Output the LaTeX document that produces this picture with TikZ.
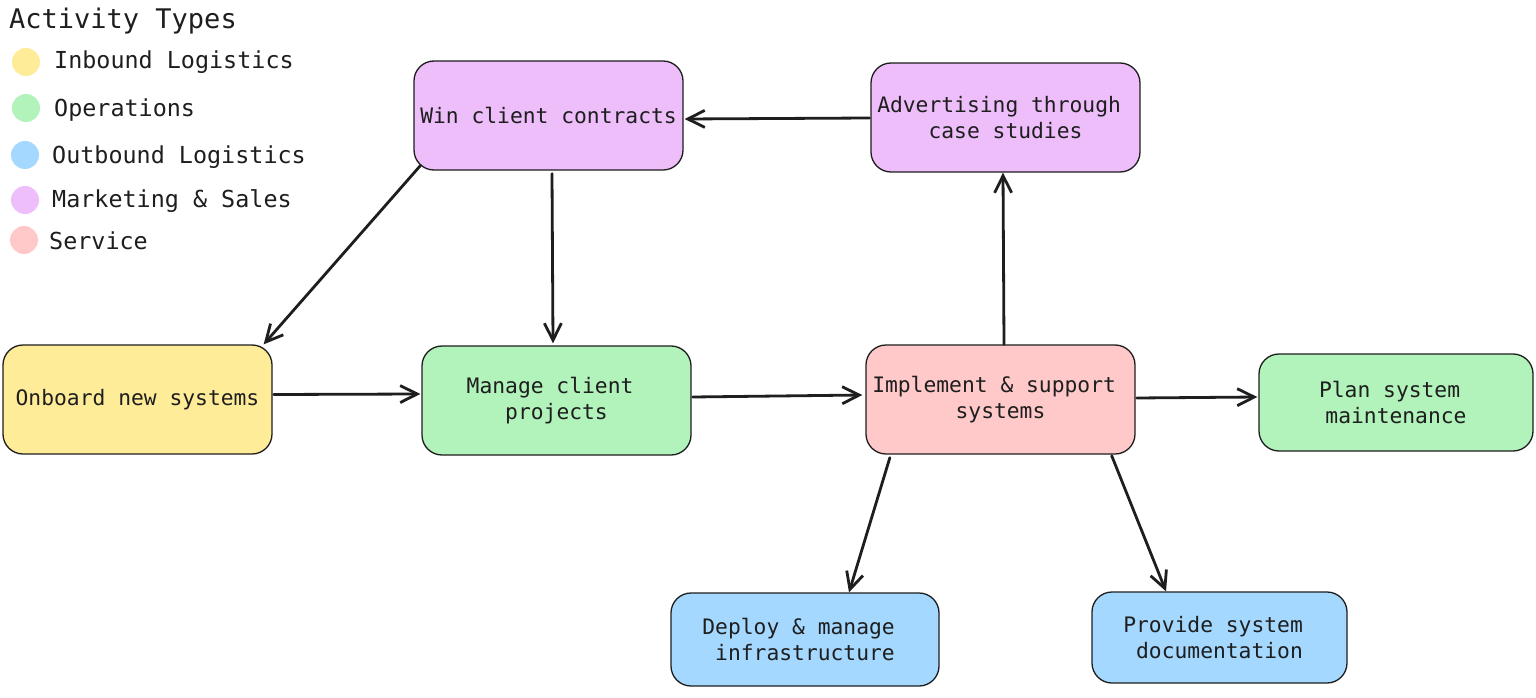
\documentclass[tikz,border=0pt]{standalone}
\usepackage{fontspec}
\setmonofont{DejaVu Sans Mono}
\usetikzlibrary{arrows.meta,calc}
\definecolor{inb}{HTML}{FFEC99}
\definecolor{ops}{HTML}{B2F2BB}
\definecolor{outb}{HTML}{A5D8FF}
\definecolor{mkt}{HTML}{EEBEFA}
\definecolor{srv}{HTML}{FFC9C9}
\definecolor{ink}{HTML}{1E1E1E}
\tikzset{
  act/.style={draw=ink, line width=1.3bp, rounded corners=20bp, align=center,
    inner sep=0pt, font=\ttfamily\fontsize{21.3bp}{26.5bp}\selectfont, text=ink},
  conn/.style={draw=ink, line width=2.8bp, line cap=round,
    -{Straight Barb[length=17bp,width=17bp,line width=2.8bp]}},
  legdot/.style={circle, minimum size=28bp, inner sep=0pt, draw=none},
  legtxt/.style={anchor=west, inner sep=0pt, text=ink, font=\ttfamily\fontsize{23.4bp}{28bp}\selectfont},
}
\newcommand{\tsp}{\hphantom{x}}
\begin{document}
\begin{tikzpicture}[x=1bp,y=-1bp]
\useasboundingbox[fill=white] (0,0) rectangle (1536,698);
% legend
\node[anchor=west, inner sep=0pt, text=ink, font=\ttfamily\fontsize{27bp}{32bp}\selectfont] (legtitle) at (9,21) {Activity Types};
\node[legdot, fill=inb] (d1) at (26,62) {};
\node[legdot, fill=ops] (d2) at (26,108) {};
\node[legdot, fill=outb] (d3) at (25,155) {};
\node[legdot, fill=mkt] (d4) at (25,200) {};
\node[legdot, fill=srv] (d5) at (24,240) {};
\node[legtxt] (l1) at (54,62.5) {Inbound Logistics};
\node[legtxt] (l2) at (54,110.5) {Operations};
\node[legtxt] (l3) at (52,157.5) {Outbound Logistics};
\node[legtxt] (l4) at (52,201.5) {Marketing \& Sales};
\node[legtxt] (l5) at (49,240.5) {Service};
% activities
\node[act, fill=mkt, minimum width=269bp, minimum height=109bp] (win) at (548.5,115.5) {Win client contracts};
\node[act, fill=mkt, minimum width=269bp, minimum height=109bp] (adv) at (1005.5,117.5) {Advertising through\tsp\\case studies};
\node[act, fill=inb, minimum width=269bp, minimum height=109bp] (onb) at (137.5,399.5) {Onboard new systems};
\node[act, fill=ops, minimum width=269bp, minimum height=109bp] (man) at (556.5,400.5) {Manage client\tsp\\projects};
\node[act, fill=srv, minimum width=269bp, minimum height=109bp] (imp) at (1000.5,399.5) {Implement \& support\tsp\\systems};
\node[act, fill=ops, minimum width=274bp, minimum height=97bp] (plan) at (1396,402.5) {Plan system\tsp\\maintenance};
\node[act, fill=outb, minimum width=268bp, minimum height=93bp] (dep) at (805,639.5) {Deploy \& manage\tsp\\infrastructure};
\node[act, fill=outb, minimum width=255bp, minimum height=91bp] (prov) at (1219.5,637.5) {Provide system\tsp\\documentation};
% connectors
\draw[conn] ($(adv.west)+(-1,0.5)$) -- ($(win.east)+(1,3.5)$);
\draw[conn] ($(win.south west)+(7,-5)$) -- ($(onb.north east)+(-9,0)$);
\draw[conn] ($(win.south)+(3.5,3)$) -- ($(man.north)+(-3.5,-2)$);
\draw[conn] ($(onb.east)+(1,-5)$) -- ($(man.west)+(-1,-6.5)$);
\draw[conn] ($(man.east)+(1,-3.5)$) -- ($(imp.west)+(-3,-4.5)$);
\draw[conn] ($(imp.north)+(3.5,0)$) -- ($(adv.south)+(-2.5,0)$);
\draw[conn] ($(imp.east)+(1,-1.5)$) -- ($(plan.west)+(-1,-5.5)$);
\draw[conn] ($(imp.south west)+(24.5,3)$) -- ($(dep.north)+(44,0)$);
\draw[conn] ($(imp.south east)+(-24,1)$) -- ($(prov.north)+(-53.5,0)$);
\end{tikzpicture}
\end{document}
